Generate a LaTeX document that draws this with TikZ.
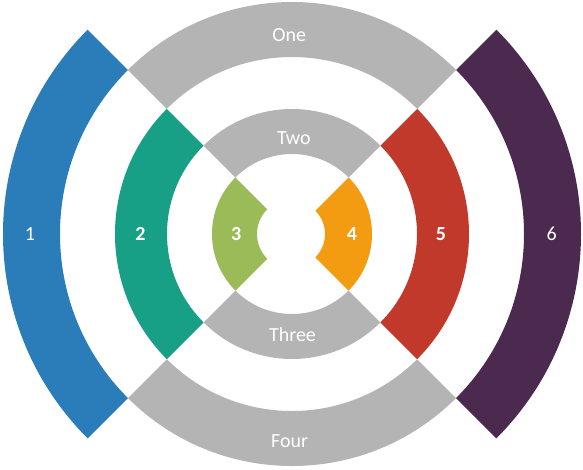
\documentclass[tikz,border=0pt]{standalone}
\usepackage{fontspec}
\setmainfont{Carlito}
\definecolor{cblue}{HTML}{2B7DB9}
\definecolor{cteal}{HTML}{17A085}
\definecolor{colive}{HTML}{9BBB59}
\definecolor{corange}{HTML}{F39C12}
\definecolor{cred}{HTML}{C0392B}
\definecolor{cpurple}{HTML}{4C2A50}
\definecolor{cgray}{HTML}{B4B4B4}
\newcommand\ringsector[5]{%
  \fill[#1] (#2:#5pt) arc[start angle=#2,end angle=#3,radius=#5pt]
    -- (#3:#4pt) arc[start angle=#3,end angle=#2,radius=#4pt] -- cycle;}
\tikzset{
  lbl/.style={text=white,inner sep=0pt,anchor=base,font=\fontsize{20}{24}\selectfont},
  numlbl/.style={lbl},
  boldlbl/.style={lbl,font=\fontsize{20}{24}\selectfont\bfseries}
}
\begin{document}
\begin{tikzpicture}[x=1pt,y=1pt]
\useasboundingbox (-292,-235) rectangle (291,234);
% ring A
\ringsector{cblue}{135}{225}{232}{289}
\ringsector{cpurple}{-45}{45}{232}{289}
% ring B
\ringsector{cgray}{45}{135}{177}{232}
\ringsector{cgray}{225}{315}{177}{232}
% ring C
\ringsector{cteal}{135}{225}{125}{177}
\ringsector{cred}{-45}{45}{125}{177}
% ring D
\ringsector{cgray}{45}{135}{80}{125}
\ringsector{cgray}{225}{315}{80}{125}
% ring E
\ringsector{colive}{135}{225}{35}{80}
\ringsector{corange}{-45}{45}{33}{80}
% labels
\node[lbl] (one) at (-2.8,193) {One};
\node[lbl] (two) at (1.8,90) {Two};
\node[lbl] (three) at (0.5,-107) {Three};
\node[lbl] (four) at (-2.3,-213.3) {Four};
\node[numlbl] (n1) at (-262,-6.5) {1};
\node[boldlbl] (n2) at (-151.5,-6.5) {2};
\node[boldlbl] (n3) at (-55.7,-6.5) {3};
\node[boldlbl] (n4) at (60,-6.5) {4};
\node[boldlbl] (n5) at (149,-6.5) {5};
\node[numlbl] (n6) at (259.7,-6.5) {6};
\end{tikzpicture}
\end{document}
